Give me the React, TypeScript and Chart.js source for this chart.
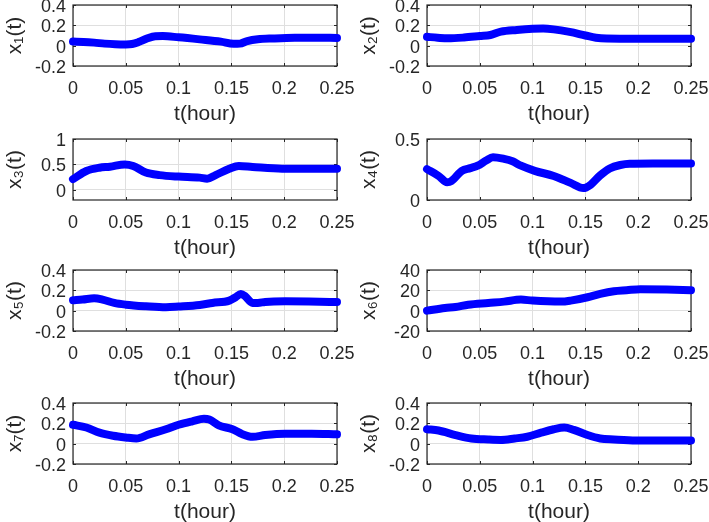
import React, { useEffect, useRef } from 'react';
import { Chart, registerables } from 'chart.js';

Chart.register(...registerables);

// ---------- data ----------
const xTicks = [0, 0.05, 0.1, 0.15, 0.2, 0.25];
const xTickLabels = ['0', '0.05', '0.1', '0.15', '0.2', '0.25'];

const yTicksSmall = [-0.2, 0, 0.2, 0.4];
const yTickLabelsSmall = ['-0.2', '0', '0.2', '0.4'];
const yTicksX3 = [0, 0.5, 1];
const yTickLabelsX3 = ['0', '0.5', '1'];
const yTicksX4 = [0, 0.5];
const yTickLabelsX4 = ['0', '0.5'];
const yTicksX6 = [-20, 0, 20, 40];
const yTickLabelsX6 = ['-20', '0', '20', '40'];

const t1 = [0, 0.01, 0.02, 0.03, 0.04, 0.05, 0.056, 0.062, 0.07, 0.078, 0.085, 0.1, 0.12, 0.14, 0.152, 0.158, 0.165, 0.175, 0.19, 0.21, 0.23, 0.25];
const x1 = [0.04, 0.037, 0.03, 0.02, 0.014, 0.012, 0.016, 0.035, 0.07, 0.093, 0.094, 0.082, 0.062, 0.04, 0.018, 0.02, 0.045, 0.063, 0.071, 0.078, 0.079, 0.076];

const t2 = [0, 0.01, 0.02, 0.035, 0.05, 0.06, 0.07, 0.085, 0.1, 0.11, 0.12, 0.135, 0.15, 0.16, 0.17, 0.2, 0.25];
const x2 = [0.087, 0.078, 0.072, 0.08, 0.095, 0.105, 0.138, 0.155, 0.166, 0.168, 0.16, 0.135, 0.1, 0.078, 0.07, 0.068, 0.068];

const t3 = [0, 0.0126, 0.025, 0.035, 0.049, 0.057, 0.069, 0.082, 0.1, 0.12, 0.127, 0.135, 0.148, 0.157, 0.17, 0.198, 0.25];
const x3 = [0.21, 0.37, 0.435, 0.455, 0.5, 0.47, 0.34, 0.29, 0.26, 0.24, 0.22, 0.29, 0.415, 0.47, 0.45, 0.415, 0.415];

const t4 = [0, 0.011, 0.019, 0.023, 0.033, 0.041, 0.048, 0.056, 0.0625, 0.073, 0.081, 0.089, 0.102, 0.12, 0.136, 0.148, 0.155, 0.164, 0.173, 0.183, 0.192, 0.214, 0.25];
const x4 = [0.253, 0.197, 0.146, 0.155, 0.239, 0.261, 0.281, 0.323, 0.351, 0.337, 0.317, 0.281, 0.239, 0.197, 0.14, 0.098, 0.126, 0.202, 0.258, 0.287, 0.298, 0.3, 0.3];

const t5 = [0, 0.009, 0.02, 0.028, 0.039, 0.05, 0.069, 0.088, 0.1, 0.12, 0.132, 0.148, 0.154, 0.159, 0.163, 0.17, 0.175, 0.182, 0.201, 0.25];
const x5 = [0.102, 0.109, 0.122, 0.109, 0.076, 0.059, 0.043, 0.033, 0.04, 0.056, 0.076, 0.099, 0.132, 0.165, 0.142, 0.076, 0.076, 0.086, 0.092, 0.086];

const t6 = [0, 0.017, 0.027, 0.039, 0.058, 0.073, 0.089, 0.1, 0.127, 0.136, 0.152, 0.164, 0.177, 0.189, 0.202, 0.227, 0.25];
const x6 = [0, 2.6, 3.6, 5.9, 7.6, 8.9, 10.9, 9.9, 8.9, 9.9, 13.2, 16.5, 19.1, 20.1, 21.1, 20.8, 20.1];

const t7 = [0, 0.0126, 0.025, 0.038, 0.05, 0.06, 0.072, 0.088, 0.1, 0.113, 0.124, 0.129, 0.138, 0.151, 0.16, 0.17, 0.182, 0.201, 0.226, 0.25];
const x7 = [0.186, 0.159, 0.108, 0.078, 0.061, 0.051, 0.092, 0.142, 0.186, 0.22, 0.244, 0.237, 0.18, 0.142, 0.095, 0.068, 0.085, 0.098, 0.098, 0.092];

const t8 = [0, 0.011, 0.027, 0.042, 0.058, 0.07, 0.083, 0.095, 0.108, 0.12, 0.13, 0.139, 0.152, 0.164, 0.177, 0.198, 0.25];
const x8 = [0.142, 0.129, 0.085, 0.051, 0.041, 0.037, 0.051, 0.068, 0.108, 0.142, 0.159, 0.136, 0.085, 0.051, 0.041, 0.031, 0.031];

const yTitles = ['x₁(t)', 'x₂(t)', 'x₃(t)', 'x₄(t)', 'x₅(t)', 'x₆(t)', 'x₇(t)', 'x₈(t)'];
const xTitle = 't(hour)';

// ---------- layout ----------
const FONT = '"Liberation Sans", Arial, Helvetica, sans-serif';
const TEXT = '#262626';
const CANVAS_W = 355;
const Y_AXIS_W = 73;
const PLOT_W = 264;
const PLOT_H = 61;
const PAD_TOP = 10;
const X_AXIS_H = 62;
const CANVAS_H = PAD_TOP + PLOT_H + X_AXIS_H;
const colLefts = [0, 354];
const rowTops = [5, 139, 270, 403];

type PanelProps = {
  t: number[];
  v: number[];
  yMin: number;
  yMax: number;
  yTicks: number[];
  yTickLabels: string[];
  title: string;
  left: number;
  top: number;
};

const boxPlugin = {
  id: 'matlabBox',
  beforeDatasetsDraw(chart: any) {
    const { ctx, chartArea: a, scales } = chart;
    ctx.save();
    ctx.strokeStyle = TEXT;
    ctx.lineWidth = 1;
    const tl = 3;
    ctx.beginPath();
    scales.x.ticks.forEach((tk: any) => {
      const px = Math.round(scales.x.getPixelForValue(tk.value)) + 0.5;
      ctx.moveTo(px, a.bottom);
      ctx.lineTo(px, a.bottom - tl);
      ctx.moveTo(px, a.top);
      ctx.lineTo(px, a.top + tl);
    });
    scales.y.ticks.forEach((tk: any) => {
      const py = Math.round(scales.y.getPixelForValue(tk.value)) + 0.5;
      ctx.moveTo(a.left, py);
      ctx.lineTo(a.left + tl, py);
      ctx.moveTo(a.right, py);
      ctx.lineTo(a.right - tl, py);
    });
    ctx.stroke();
    ctx.lineWidth = 1.2;
    ctx.strokeRect(a.left, a.top, a.right - a.left, a.bottom - a.top);
    ctx.restore();
  },
};

function Panel({ t, v, yMin, yMax, yTicks, yTickLabels, title, left, top }: PanelProps) {
  const ref = useRef<HTMLCanvasElement>(null);
  useEffect(() => {
    const chart = new Chart(ref.current as HTMLCanvasElement, {
      type: 'line',
      data: {
        datasets: [
          {
            data: t.map((x, i) => ({ x, y: v[i] })),
            borderColor: '#0000ff',
            borderWidth: 8,
            pointRadius: 0,
            cubicInterpolationMode: 'monotone',
            borderCapStyle: 'round',
            borderJoinStyle: 'round',
            clip: false,
          } as any,
        ],
      },
      options: {
        animation: false,
        responsive: false,
        maintainAspectRatio: false,
        events: [],
        layout: { padding: { top: PAD_TOP, right: CANVAS_W - Y_AXIS_W - PLOT_W, bottom: 0, left: 0 } },
        plugins: { legend: { display: false }, tooltip: { enabled: false } },
        scales: {
          x: {
            type: 'linear',
            min: 0,
            max: 0.25,
            afterBuildTicks: (s: any) => {
              s.ticks = xTicks.map((value) => ({ value }));
            },
            afterFit: (s: any) => {
              s.height = X_AXIS_H;
              s.paddingLeft = 0;
              s.paddingRight = 0;
            },
            grid: { color: '#dfdfdf', lineWidth: 1, drawTicks: false },
            border: { display: false },
            ticks: {
              autoSkip: false,
              maxRotation: 0,
              padding: 12,
              color: TEXT,
              font: { family: FONT, size: 18, lineHeight: 1.2 },
              callback: (_v: any, i: number) => xTickLabels[i],
            },
            title: {
              display: true,
              text: xTitle,
              color: TEXT,
              font: { family: FONT, size: 21, lineHeight: 1 },
              padding: { top: 0, bottom: 3 },
            },
          },
          y: {
            type: 'linear',
            min: yMin,
            max: yMax,
            afterBuildTicks: (s: any) => {
              s.ticks = yTicks.map((value) => ({ value }));
            },
            afterFit: (s: any) => {
              s.width = Y_AXIS_W;
              s.paddingTop = 0;
              s.paddingBottom = 0;
            },
            grid: { color: '#dfdfdf', lineWidth: 1, drawTicks: false },
            border: { display: false },
            ticks: {
              autoSkip: false,
              padding: 7,
              labelOffset: 2,
              color: TEXT,
              font: { family: FONT, size: 18, lineHeight: 1.2 },
              callback: (_v: any, i: number) => yTickLabels[i],
            },
            title: {
              display: true,
              text: title,
              color: TEXT,
              font: { family: FONT, size: 21, lineHeight: 1 },
              padding: { top: 5, bottom: 0 },
            },
          },
        },
      },
      plugins: [boxPlugin],
    });
    return () => chart.destroy();
  }, [t, v, yMin, yMax, yTicks, yTickLabels, title]);

  return (
    <canvas
      ref={ref}
      width={CANVAS_W}
      height={CANVAS_H}
      style={{ position: 'absolute', left, top: top - PAD_TOP, width: CANVAS_W, height: CANVAS_H }}
    />
  );
}

const panels: PanelProps[] = [
  { t: t1, v: x1, yMin: -0.2, yMax: 0.4, yTicks: yTicksSmall, yTickLabels: yTickLabelsSmall, title: yTitles[0], left: colLefts[0], top: rowTops[0] },
  { t: t2, v: x2, yMin: -0.2, yMax: 0.4, yTicks: yTicksSmall, yTickLabels: yTickLabelsSmall, title: yTitles[1], left: colLefts[1], top: rowTops[0] },
  { t: t3, v: x3, yMin: -0.2, yMax: 1, yTicks: yTicksX3, yTickLabels: yTickLabelsX3, title: yTitles[2], left: colLefts[0], top: rowTops[1] },
  { t: t4, v: x4, yMin: 0, yMax: 0.5, yTicks: yTicksX4, yTickLabels: yTickLabelsX4, title: yTitles[3], left: colLefts[1], top: rowTops[1] },
  { t: t5, v: x5, yMin: -0.2, yMax: 0.4, yTicks: yTicksSmall, yTickLabels: yTickLabelsSmall, title: yTitles[4], left: colLefts[0], top: rowTops[2] },
  { t: t6, v: x6, yMin: -20, yMax: 40, yTicks: yTicksX6, yTickLabels: yTickLabelsX6, title: yTitles[5], left: colLefts[1], top: rowTops[2] },
  { t: t7, v: x7, yMin: -0.2, yMax: 0.4, yTicks: yTicksSmall, yTickLabels: yTickLabelsSmall, title: yTitles[6], left: colLefts[0], top: rowTops[3] },
  { t: t8, v: x8, yMin: -0.2, yMax: 0.4, yTicks: yTicksSmall, yTickLabels: yTickLabelsSmall, title: yTitles[7], left: colLefts[1], top: rowTops[3] },
];

export default function App() {
  return (
    <div
      style={{
        position: 'absolute',
        left: 0,
        top: 0,
        width: 709,
        height: 522,
        overflow: 'hidden',
        background: '#ffffff',
      }}
    >
      {panels.map((p, i) => (
        <Panel key={i} {...p} />
      ))}
    </div>
  );
}
